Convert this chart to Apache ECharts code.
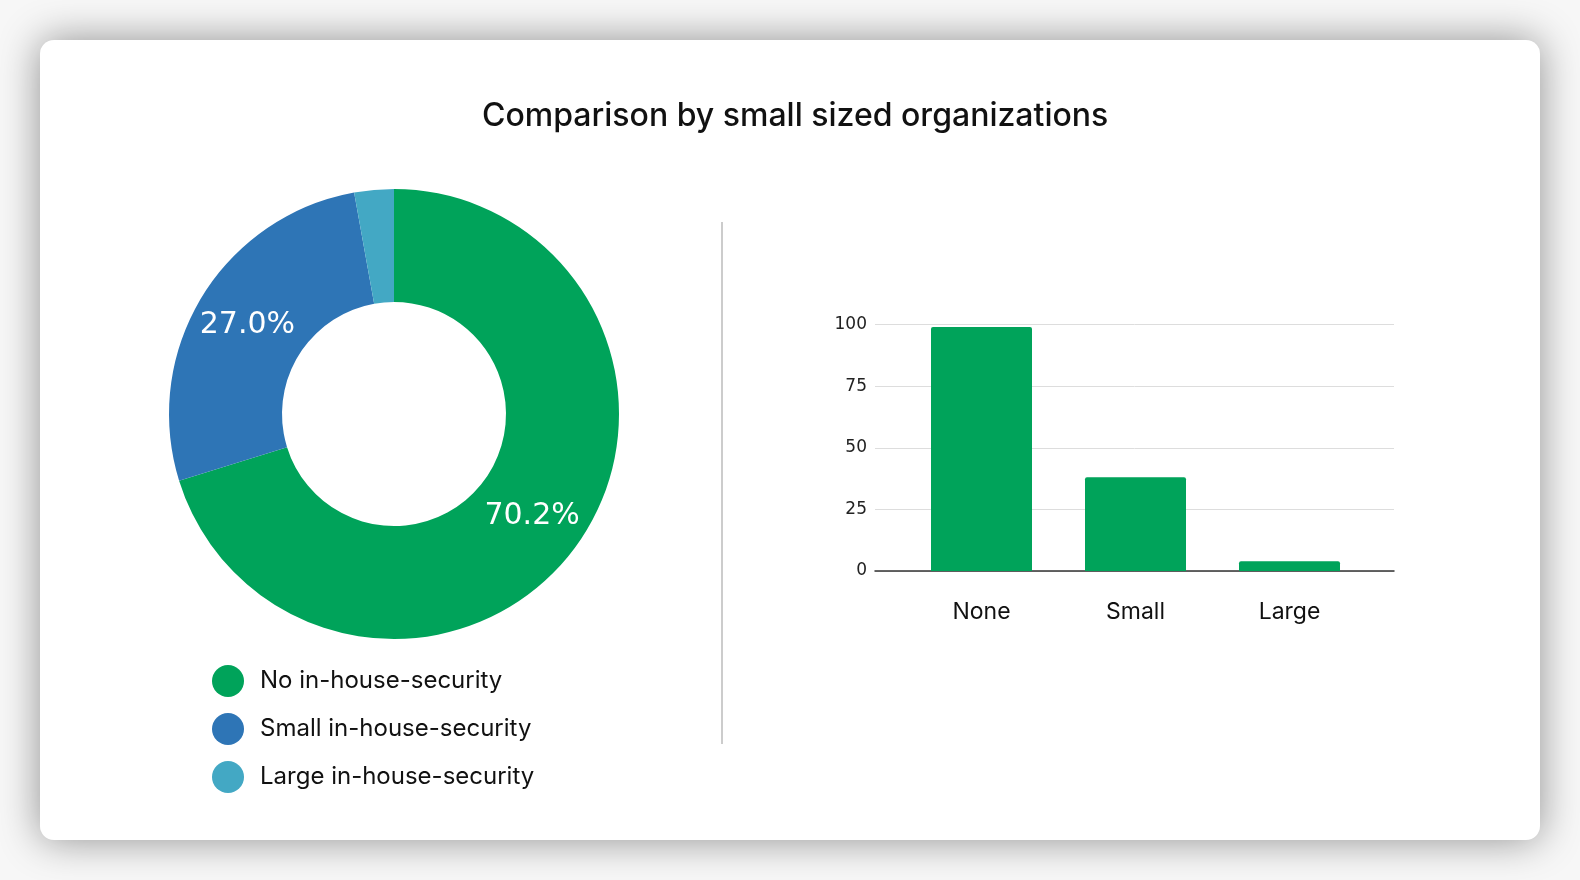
<!DOCTYPE html>
<html>
<head>
<meta charset="utf-8">
<script src="https://cdn.jsdelivr.net/npm/echarts@6/dist/echarts.min.js"></script>
<style>
  html, body { margin: 0; padding: 0; background: #f7f7f7; width: 1580px; height: 880px; overflow: hidden; }
  #card {
    position: absolute; left: 40px; top: 40px; width: 1500px; height: 800px;
    background: #fff; border-radius: 14px; overflow: hidden;
    box-shadow: 0 0 40px rgba(0, 0, 0, 0.42);
  }
  #chart { width: 1500px; height: 800px; }
</style>
</head>
<body>
<div id="card"><div id="chart"></div></div>
<script>
var title = 'Comparison by small sized organizations'
var pieNames = ['No in-house-security', 'Small in-house-security', 'Large in-house-security']
var barCategories = ['None', 'Small', 'Large']
var counts = [99, 38, 4]
var colors = ['#00A35A', '#2E75B6', '#43A8C4']

var myChart = echarts.init(document.getElementById('chart'))

var total = 0
for (var k = 0; k < counts.length; k++) total += counts[k]

var pieData = []
for (var i = 0; i < pieNames.length; i++) {
  pieData.push({
    name: pieNames[i],
    value: counts[i],
    itemStyle: { color: colors[i] },
    label: { show: i < 2 } // smallest slice has no label
  })
}

var option = {
  animation: false,
  title: {
    text: title,
    left: 437,
    top: 55,
    padding: 5,
    textStyle: { fontFamily: 'Inter', fontSize: 32, fontWeight: 500, color: '#111' }
  },
  legend: {
    orient: 'vertical',
    left: 167,
    top: 620,
    icon: 'circle',
    itemWidth: 32,
    itemHeight: 32,
    itemGap: 16,
    data: pieNames,
    textStyle: { fontFamily: 'Inter', fontSize: 24, color: '#111', padding: [0, 0, 0, 11] }
  },
  graphic: [
    {
      type: 'line',
      shape: { x1: 682, y1: 182, x2: 682, y2: 704 },
      style: { stroke: '#cccccc', lineWidth: 2 }
    }
  ],
  grid: [
    // grid 0: gridlines and y labels, wider than the bars
    { left: 835, right: 146, top: 284.5, height: 246.5 },
    // grid 1: bars
    { left: 864.5, right: 173.5, top: 284.5, height: 246.5 }
  ],
  xAxis: [
    {
      gridIndex: 0,
      type: 'value',
      min: 0,
      max: 1,
      axisLine: { show: true, onZero: false, lineStyle: { color: '#333', width: 1.5 } },
      axisTick: { show: false },
      axisLabel: { show: false },
      splitLine: { show: false }
    },
    {
      gridIndex: 1,
      type: 'category',
      data: barCategories,
      axisLine: { show: false },
      axisTick: { show: false },
      axisLabel: { margin: 30, fontFamily: 'Inter', fontSize: 23, color: '#111' }
    }
  ],
  yAxis: [
    {
      gridIndex: 0,
      type: 'value',
      min: 0,
      max: 100,
      interval: 25,
      axisLine: { show: false },
      axisTick: { show: false },
      axisLabel: { margin: 8, fontFamily: 'DejaVu Sans', fontSize: 17, color: '#222' },
      splitLine: { lineStyle: { color: '#dddddd', width: 1 } }
    },
    {
      gridIndex: 1,
      type: 'value',
      min: 0,
      max: 100,
      interval: 25,
      show: false,
      splitLine: { show: false }
    }
  ],
  series: [
    {
      type: 'pie',
      center: [354, 374],
      radius: [112, 225],
      startAngle: 90,
      clockwise: true,
      data: pieData,
      label: {
        position: 'inside',
        formatter: function (p) { return (p.value / total * 100).toFixed(1) + '%' },
        fontFamily: 'DejaVu Sans',
        fontSize: 30,
        color: '#fff'
      },
      labelLine: { show: false },
      emphasis: { disabled: true }
    },
    {
      type: 'bar',
      xAxisIndex: 1,
      yAxisIndex: 1,
      data: counts,
      barWidth: 101,
      itemStyle: { color: colors[0], borderRadius: [2, 2, 0, 0] }
    }
  ]
}
myChart.setOption(option)
</script>
</body>
</html>
